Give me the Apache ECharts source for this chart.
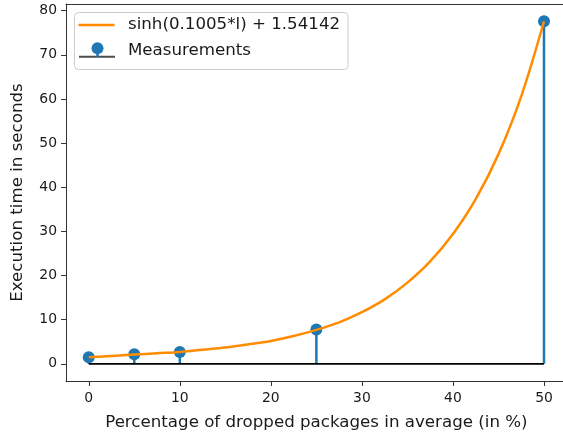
<!DOCTYPE html>
<html>
<head>
<meta charset="utf-8">
<script src="https://cdn.jsdelivr.net/npm/echarts@6/dist/echarts.min.js"></script>
<style>html,body{margin:0;padding:0;background:#fff;}#c{width:563px;height:434px;}</style>
</head>
<body>
<div id="c"></div>
<script>
// Measurements (stem plot)
var measX = [0, 5, 10, 25, 50];
var measY = [1.5, 2.2, 2.7, 7.8, 77.6];
// Fitted curve, values
var curveX = [0, 2.5, 5, 7.5, 10, 12.5, 15, 17.5, 20, 22.5, 25, 27.5, 30, 32.5, 35, 37.5, 40, 42.5, 45, 47.5, 50];
var curveY = [1.5, 1.8, 2.1, 2.4, 2.7, 3.2, 3.7, 4.4, 5.2, 6.3, 7.7, 9.4, 11.7, 14.6, 18.4, 23.2, 29.4, 37.3, 47.5, 60.6, 77.6];
var xTicks = [0, 10, 20, 30, 40, 50];
var yTicks = [0, 10, 20, 30, 40, 50, 60, 70, 80];
var curveName = 'sinh(0.1005*l) + 1.54142';
var measName = 'Measurements';
var xLabel = 'Percentage of dropped packages in average (in %)';
var yLabel = 'Execution time in seconds';

var FONT = 'DejaVu Sans';
var BLUE = '#1f77b4';
var ORANGE = '#ff8c00';
var SPINE = '#333333';
var TEXT = '#1a1a1a';

var chart = echarts.init(document.getElementById('c'), null, {renderer: 'canvas'});

var curveData = curveX.map(function (x, i) { return [x, curveY[i]]; });
var measData = measX.map(function (x, i) { return [x, measY[i]]; });
var baseData = [[measX[0], 0], [measX[measX.length - 1], 0]];

var option = {
  animation: false,
  grid: {
    left: 66, top: 4, right: -3.75, bottom: 53,
    show: false,
    outerBoundsMode: 'none'
  },
  legend: {
    orient: 'vertical',
    left: 74.5, top: 12.5,
    padding: [4, 8, 10, 4],
    itemWidth: 36, itemHeight: 16, itemGap: 9,
    backgroundColor: 'rgba(255,255,255,0.8)',
    borderColor: '#cccccc', borderWidth: 1, borderRadius: 4,
    textStyle: { fontFamily: FONT, fontSize: 16.67, color: TEXT, padding: [0, 0, 0, 8.5], lineHeight: 16 },
    data: [
      { name: curveName, icon: 'path://M0,0L36,0L36,2.5L0,2.5Z', itemStyle: { color: ORANGE } },
      { name: measName, icon: 'none' }
    ]
  },
  graphic: [
    { type: 'line', z: 100, shape: { x1: 79, y1: 56.7, x2: 115, y2: 56.7 }, style: { stroke: '#4d4d4d', lineWidth: 2 } },
    { type: 'line', z: 100, shape: { x1: 97.5, y1: 48.3, x2: 97.5, y2: 56.7 }, style: { stroke: BLUE, lineWidth: 2.5 } },
    { type: 'circle', z: 101, shape: { cx: 97.5, cy: 48.3, r: 6 }, style: { fill: BLUE } },
    { type: 'rect', z: 200, silent: true, shape: { x: 558, y: 5.5, width: 6, height: 374 }, style: { fill: '#ffffff' } }
  ],
  xAxis: [{
    type: 'value', min: -2.5, max: 52.5,
    name: xLabel, nameLocation: 'middle', nameGap: 33,
    nameTextStyle: { fontFamily: FONT, fontSize: 16.67, color: TEXT },
    splitLine: { show: false },
    axisLine: { show: true, onZero: false, lineStyle: { color: SPINE, width: 1 } },
    axisTick: { show: true, inside: false, length: 5, lineStyle: { color: SPINE, width: 1 }, customValues: xTicks },
    axisLabel: { fontFamily: FONT, fontSize: 13.9, color: TEXT, margin: 10, customValues: xTicks }
  }, {
    type: 'value', position: 'top', min: -2.5, max: 52.5,
    splitLine: { show: false },
    axisLine: { show: true, onZero: false, lineStyle: { color: SPINE, width: 1 } },
    axisTick: { show: false }, axisLabel: { show: false }
  }],
  yAxis: {
    type: 'value', min: -3.88, max: 81.5,
    name: yLabel, nameLocation: 'middle', nameGap: 40, nameRotate: 90,
    nameTextStyle: { fontFamily: FONT, fontSize: 16.67, color: TEXT },
    splitLine: { show: false },
    axisLine: { show: true, onZero: false, lineStyle: { color: SPINE, width: 1 } },
    axisTick: { show: true, inside: false, length: 5, lineStyle: { color: SPINE, width: 1 }, customValues: yTicks },
    axisLabel: { fontFamily: FONT, fontSize: 13.9, color: TEXT, margin: 9, customValues: yTicks }
  },
  series: [
    {
      type: 'bar', name: 'stems', z: 2, silent: true, xAxisIndex: 0,
      data: measData, barWidth: 2.5, barGap: '-100%',
      itemStyle: { color: BLUE }
    },
    {
      type: 'scatter', name: measName, z: 3, xAxisIndex: 0,
      data: measData, symbol: 'circle', symbolSize: 12,
      itemStyle: { color: BLUE, opacity: 1 }
    },
    {
      type: 'line', name: 'baseline', z: 4, silent: true, xAxisIndex: 0,
      data: baseData, symbol: 'none',
      lineStyle: { color: '#000000', width: 1.6 }
    },
    {
      type: 'line', name: curveName, z: 5, xAxisIndex: 0,
      data: curveData, symbol: 'none', smooth: 0.35,
      lineStyle: { color: ORANGE, width: 2.5 },
      itemStyle: { color: ORANGE }
    }
  ]
};
chart.setOption(option);
</script>
</body>
</html>
